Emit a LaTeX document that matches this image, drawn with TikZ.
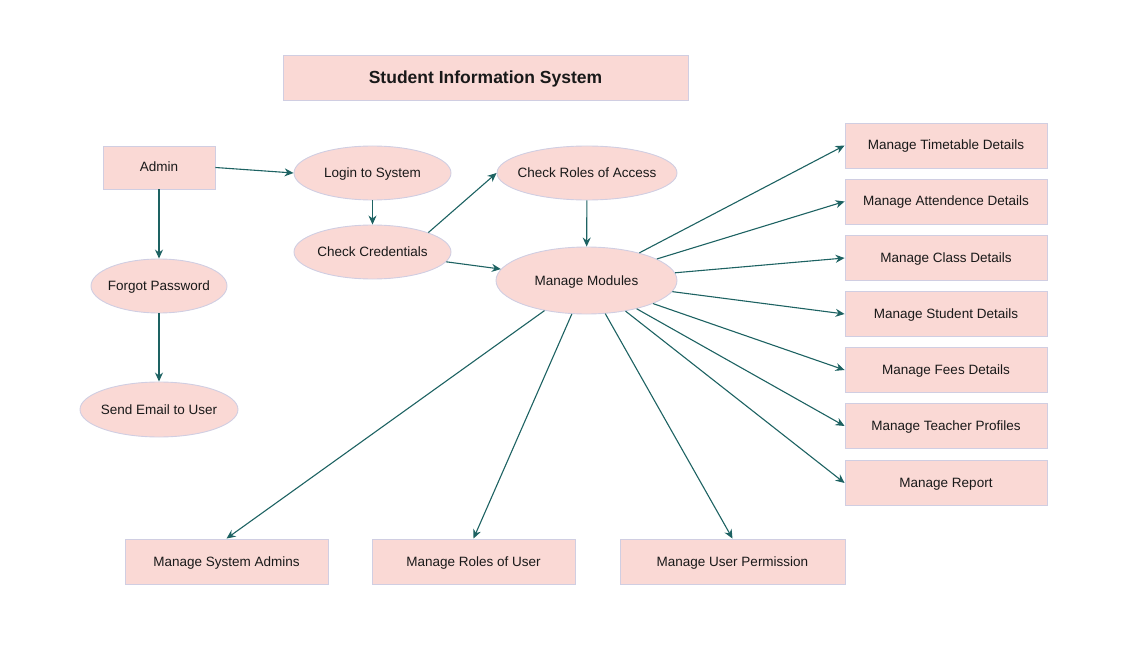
\documentclass[tikz,border=0pt]{standalone}
\usepackage{fontspec}
\setmainfont{Liberation Sans}
\usetikzlibrary{shapes.geometric,arrows.meta}
\definecolor{boxfill}{HTML}{FAD9D5}
\definecolor{boxline}{HTML}{D0CEE2}
\definecolor{flow}{HTML}{1D6262}
% text of a use case: zero width, so the ellipse keeps its given size
\newcommand{\uctext}[1]{\makebox[0pt]{#1}}
\begin{document}
\begin{tikzpicture}[x=1pt,y=-1pt,
  every node/.style={font=\fontsize{13.5}{16}\selectfont, text=black!90,
    text height=9pt, text depth=0pt},
  rectbox/.style={draw=boxline, fill=boxfill, line width=0.9pt, rectangle,
    inner sep=0pt, minimum width=#1, minimum height=45pt},
  rectbox/.default=202pt,
  usecase/.style={draw=boxline, fill=boxfill, line width=0.9pt, ellipse,
    inner sep=0pt},
  flowarrow/.style={draw=flow, line width=1.1pt,
    -{Stealth[length=9pt,width=8pt]}}]
\useasboundingbox (0,0) rectangle (1128,666);

% title banner
\node[rectbox=405pt, font=\bfseries\fontsize{17.5}{20}\selectfont, text height=12pt] (title) at (485.5,78) {Student Information System};

% left column
\node[rectbox=112pt, minimum height=43pt] (admin) at (159,167.5) {Admin};
\node[usecase, minimum width=136pt, minimum height=54pt] (forgot) at (159,286) {\uctext{Forgot Password}};
\node[usecase, minimum width=158pt, minimum height=55pt] (email) at (159,409.5) {\uctext{Send Email to User}};

% login flow
\node[usecase, minimum width=157pt, minimum height=54pt] (login) at (372.5,173) {\uctext{Login to System}};
\node[usecase, minimum width=157pt, minimum height=54pt] (cred) at (372.5,252) {\uctext{Check Credentials}};
\node[usecase, minimum width=180pt, minimum height=54pt] (roles) at (587,173) {\uctext{Check Roles of Access}};
\node[usecase, minimum width=181pt, minimum height=67pt] (mods) at (586.5,280.5) {\uctext{Manage Modules}};

% module boxes on the right
\node[rectbox] (tt)  at (946,145.5) {Manage Timetable Details};
\node[rectbox] (att) at (946,201.5) {Manage Attendence Details};
\node[rectbox] (cls) at (946,258) {Manage Class Details};
\node[rectbox] (stu) at (946,314) {Manage Student Details};
\node[rectbox] (fee) at (946,370) {Manage Fees Details};
\node[rectbox] (tea) at (946,426) {Manage Teacher Profiles};
\node[rectbox] (rep) at (946,483) {Manage Report};

% module boxes at the bottom
\node[rectbox=203pt] (sysad) at (226.5,561.5) {Manage System Admins};
\node[rectbox=203pt] (rou)   at (473.5,561.5) {Manage Roles of User};
\node[rectbox=225pt] (perm)  at (732.5,561.5) {Manage User Permission};

% connectors
\draw[flowarrow] (admin.east) -- (login.west);
\draw[flowarrow] (admin) -- (forgot);
\draw[flowarrow] (forgot) -- (email);
\draw[flowarrow] (login) -- (cred);
\draw[flowarrow] (cred.north east) -- (roles.west);
\draw[flowarrow] (cred) -- (mods);
\draw[flowarrow] (roles) -- (mods);

\draw[flowarrow] (mods) -- (tt.west);
\draw[flowarrow] (mods) -- (att.west);
\draw[flowarrow] (mods) -- (cls.west);
\draw[flowarrow] (mods) -- (stu.west);
\draw[flowarrow] (mods) -- (fee.west);
\draw[flowarrow] (mods) -- (tea.west);
\draw[flowarrow] (mods) -- (rep.west);

\draw[flowarrow] (mods) -- (sysad.north);
\draw[flowarrow] (mods) -- (rou.north);
\draw[flowarrow] (mods) -- (perm.north);
\end{tikzpicture}
\end{document}
